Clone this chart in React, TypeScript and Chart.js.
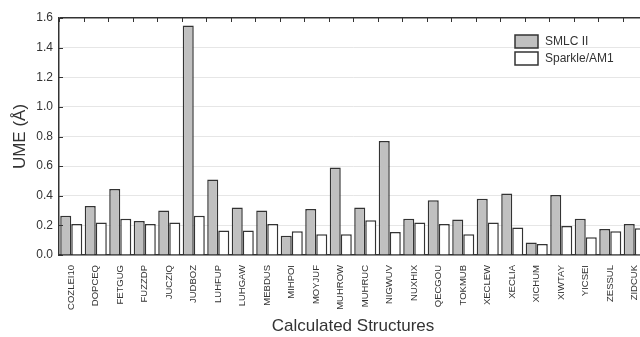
import React, { useEffect, useRef } from "react";
import { Chart, registerables } from "chart.js";

Chart.register(...registerables);

const categories = ["COZLEI10","DOPCEQ","FETGUG","FUZZDP","JUCZIQ","JUDBOZ","LUHFUP","LUHGAW","MEBDUS","MIHPOI","MOYJUF","MUHROW","MUHRUC","NIGWUV","NUXHIX","QECGOU","TOKMUB","XECLEW","XECLIA","XICHUM","XIWTAY","YICSEI","ZESSUL","ZIDCUK"];
const smlcII = [0.265,0.33,0.445,0.23,0.30,1.55,0.51,0.32,0.30,0.13,0.31,0.59,0.32,0.77,0.245,0.37,0.24,0.38,0.415,0.085,0.405,0.245,0.175,0.21];
const sparkleAM1 = [0.21,0.22,0.245,0.21,0.22,0.265,0.165,0.165,0.21,0.16,0.14,0.14,0.235,0.155,0.22,0.21,0.14,0.22,0.185,0.075,0.195,0.12,0.16,0.18];
const seriesLabels = ["SMLC II", "Sparkle/AM1"];
const yTicks = [0, 0.2, 0.4, 0.6, 0.8, 1.0, 1.2, 1.4, 1.6];

const FONT = "'Liberation Sans', Arial, sans-serif";
const INK = "#333333";

const legendPlugin = {
  id: "boxLegend",
  afterDraw(chart: any) {
    const { ctx, chartArea } = chart;
    const x0 = chartArea.right - 132;
    const y0 = chartArea.top + 17;
    ctx.save();
    chart.data.datasets.forEach((ds: any, i: number) => {
      const y = y0 + i * 17;
      ctx.fillStyle = ds.backgroundColor;
      ctx.strokeStyle = ds.borderColor;
      ctx.lineWidth = 1.5;
      ctx.fillRect(x0, y, 23, 13);
      ctx.strokeRect(x0, y, 23, 13);
      ctx.fillStyle = INK;
      ctx.font = `12px ${FONT}`;
      ctx.textBaseline = "middle";
      ctx.textAlign = "left";
      ctx.fillText(ds.label, x0 + 30, y + 7);
    });
    ctx.restore();
  },
};

const innerTicksPlugin = {
  id: "innerTicks",
  afterDatasetsDraw(chart: any) {
    const { ctx, chartArea, scales } = chart;
    const xs = scales.x;
    const ys = scales.y;
    ctx.save();
    ctx.strokeStyle = INK;
    ctx.lineWidth = 1;
    ctx.beginPath();
    yTicks.forEach((v) => {
      const py = Math.round(ys.getPixelForValue(v)) + 0.5;
      ctx.moveTo(chartArea.left, py);
      ctx.lineTo(chartArea.left + 4, py);
    });
    const n = categories.length;
    for (let i = 0; i <= n; i++) {
      const px = Math.round(xs.getPixelForValue(i - 0.5)) + 0.5;
      ctx.moveTo(px, chartArea.top);
      ctx.lineTo(px, chartArea.top + 4);
    }
    ctx.stroke();
    ctx.restore();
  },
};

export default function App() {
  const ref = useRef<HTMLCanvasElement | null>(null);
  useEffect(() => {
    if (!ref.current) return;
    const chart = new Chart(ref.current, {
      type: "bar",
      data: {
        labels: categories,
        datasets: [
          {
            label: seriesLabels[0],
            data: smlcII,
            backgroundColor: "#c0c0c0",
            borderColor: INK,
            borderWidth: 1.5,
            categoryPercentage: 0.9,
            barPercentage: 1.0,
          },
          {
            label: seriesLabels[1],
            data: sparkleAM1,
            backgroundColor: "#ffffff",
            borderColor: INK,
            borderWidth: 1.5,
            categoryPercentage: 0.9,
            barPercentage: 1.0,
          },
        ],
      },
      options: {
        animation: false,
        responsive: true,
        maintainAspectRatio: false,
        layout: { padding: { top: 18, right: 13, left: 0, bottom: 0 } },
        plugins: { legend: { display: false }, tooltip: { enabled: false } },
        scales: {
          x: {
            grid: { display: false },
            border: { display: true, color: INK, width: 1.5 },
            ticks: {
              autoSkip: false,
              maxRotation: 90,
              minRotation: 90,
              padding: 2,
              color: INK,
              font: { family: FONT, size: 9.5 },
            },
            title: {
              display: true,
              text: "Calculated Structures",
              color: INK,
              font: { family: FONT, size: 17 },
              padding: { top: 2, bottom: 0 },
            },
            afterFit: (s: any) => { s.height = 82; },
          },
          y: {
            min: 0,
            max: 1.6,
            afterBuildTicks: (s: any) => { s.ticks = yTicks.map((v) => ({ value: v })); },
            grid: {
              drawTicks: false,
              color: (c: any) => (c.tick && Math.abs(c.tick.value - 1.6) < 1e-6 ? INK : "#e6e6e6"),
              lineWidth: (c: any) => (c.tick && Math.abs(c.tick.value - 1.6) < 1e-6 ? 1.5 : 1),
            },
            border: { display: true, color: INK, width: 1.5 },
            ticks: {
              padding: 6,
              color: INK,
              font: { family: FONT, size: 12 },
              callback: (v: any) => Number(v).toFixed(1),
            },
            title: {
              display: true,
              text: "UME (Å)",
              color: INK,
              font: { family: FONT, size: 17 },
              padding: { top: 10, bottom: 0 },
            },
            afterFit: (s: any) => { s.width = 59; },
          },
        },
      },
      plugins: [innerTicksPlugin, legendPlugin],
    });
    return () => chart.destroy();
  }, []);
  return (
    <div style={{ position: "fixed", left: 0, top: 0, width: 640, height: 337, overflow: "hidden", background: "#fff" }}>
      <div style={{ position: "relative", width: 660, height: 337 }}>
        <canvas ref={ref} />
      </div>
    </div>
  );
}
